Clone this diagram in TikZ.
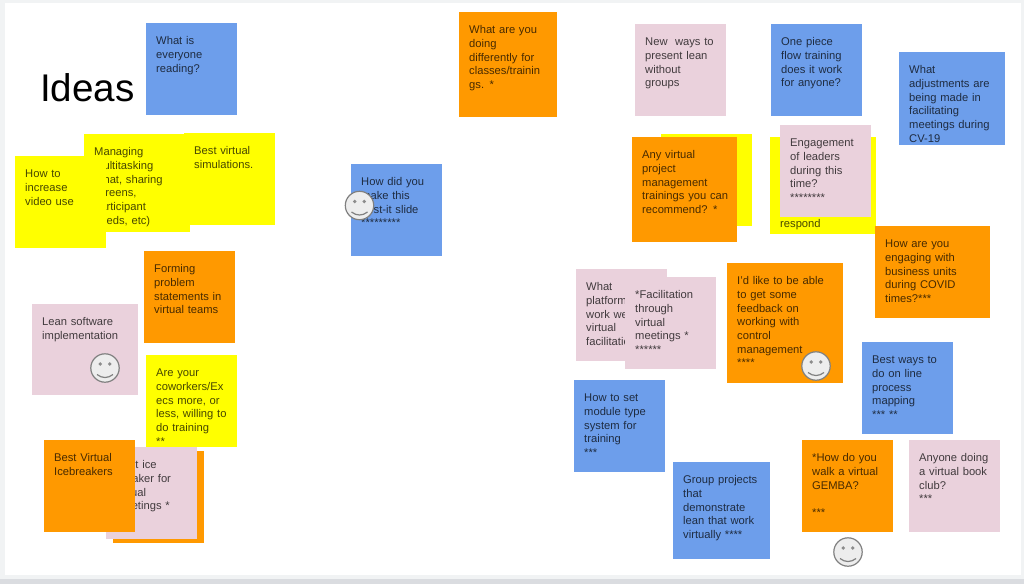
\documentclass[tikz,border=0pt]{standalone}
\usepackage{fontspec}
\setmainfont{Liberation Sans}
\usepackage{xcolor}
\usetikzlibrary{
    positioning
}
\definecolor{noteblue}{HTML}{6D9EEB}
\definecolor{noteorange}{HTML}{FF9900}
\definecolor{noteyellow}{HTML}{FFFF00}
\definecolor{notepink}{HTML}{EAD1DC}
\definecolor{slideedge}{HTML}{F1F3F4}
\definecolor{slidebar}{HTML}{DADCE0}
\tikzset{
    note/.style={
        rectangle,
        anchor=north west,
        align=left,
        inner sep=10pt,
        text height=11.5pt,
        text depth=60.5pt,
        text width=71pt,
        text=black,
        text opacity=0.72,
        font=\fontsize{11.2}{13.7}\selectfont
    },
    notesize/.style 2 args={
        text width=#1pt-20pt,
        text depth=#2pt-31.5pt
    },
    bluenote/.style={note, fill=noteblue},
    orangenote/.style={note, fill=noteorange},
    yellownote/.style={note, fill=noteyellow},
    pinknote/.style={note, fill=notepink},
    smiley/.pic={
        \draw[draw=black!50, fill=black!7, line width=1.2pt] (0,0) circle (14.2);
        \fill[black!45] (-4.7,-4) circle (1.9) (4.7,-4) circle (1.9);
        \draw[black!50, line width=1.2pt] (-8,6.5) .. controls (-3,10.5) and (3,10.5) .. (8,6.5);
    }
}
\begin{document}
\begin{tikzpicture}[x=1pt, y=-1pt]
\useasboundingbox (0,0) rectangle (1024,584);
\fill[slideedge] (0,0) rectangle (1024,584);
\fill[white] (5,3) rectangle (1021,575);
\fill[slidebar] (0,579) rectangle (1024,584);

\node[anchor=base west, inner sep=0pt, font=\fontsize{38.6}{44}\selectfont] (ideas) at (40,101) {Ideas};

\node[bluenote] (reading) at (146,23) {What is\\everyone\\reading?};
\node[yellownote, notesize={106}{98}] (multitasking) at (84,134) {Managing\\multitasking\\(chat, sharing\\screens,\\participant\\needs, etc)};
\node[yellownote] (simulations) at (184,133) {Best virtual\\simulations.};
\node[yellownote] (video) at (15,156) {How to\\increase\\video use};
\node[orangenote] (statements) at (144,251) {Forming\\problem\\statements in\\virtual teams};
\node[pinknote, notesize={106}{91}] (software) at (32,304) {Lean software\\implementation};
\node[yellownote] (coworkers) at (146,355) {Are your\\coworkers/Ex\\ecs more, or\\less, willing to\\do training\\{}**};
\node[orangenote] (blankback) at (113,451) {};
\node[pinknote] (iceone) at (106,447) {Best ice\\breaker for\\virtual\\meetings *};
\node[orangenote] (icetwo) at (44,440) {Best Virtual\\Icebreakers};

\node[orangenote, notesize={98}{105}] (differently) at (459,12) {What are you\\doing\\differently for\\classes/trainin\\gs. *};
\node[bluenote] (postit) at (351,164) {How did you\\make this\\post-it slide\\{}*********};

\node[pinknote] (present) at (635,24) {New\ \ ways to\\present lean\\without\\groups};
\node[bluenote] (onepiece) at (771,24) {One piece\\flow training\\does it work\\for anyone?};
\node[bluenote, notesize={106}{93}] (adjustments) at (899,52) {What\\adjustments are\\being made in\\facilitating\\meetings during\\CV-19};
\node[yellownote] (blankyellow) at (661,134) {};
\node[orangenote, notesize={105}{105}] (trainings) at (632,137) {Any virtual\\project\\management\\\mbox{trainings you can}\\recommend? *};
\node[yellownote, notesize={106}{97}] (respond) at (770,137) {~\\~\\~\\~\\~\\respond};
\node[pinknote] (leaders) at (780,125) {Engagement\\of leaders\\during this\\time?\\{}********};
\node[orangenote, notesize={115}{92}] (units) at (875,226) {How are you\\engaging with\\business units\\during COVID\\times?***};
\node[pinknote] (platforms) at (576,269) {What\\platforms\\work well\\virtual\\facilitation};
\node[pinknote] (facilitation) at (625,277) {*Facilitation\\through\\virtual\\meetings *\\{}******};
\node[orangenote, notesize={116}{120}] (feedback) at (727,263) {I'd like to be able\\to get some\\feedback on\\working with\\control\\management\\{}****};
\node[bluenote] (module) at (574,380) {How to set\\module type\\system for\\training\\{}***};
\node[bluenote, notesize={97}{97}] (group) at (673,462) {Group projects\\that\\demonstrate\\lean that work\\virtually ****};
\node[orangenote] (gemba) at (802,440) {*How do you\\walk a virtual\\GEMBA?\\~\\{}***};
\node[pinknote] (bookclub) at (909,440) {Anyone doing\\a virtual book\\club?\\{}***};
\node[bluenote] (mapping) at (862,342) {Best ways to\\do on line\\process\\mapping\\{}*** **};

\pic (smilelean) at (105,368) {smiley};
\pic (smilepostit) at (359.5,205.5) {smiley};
\pic (smilefeedback) at (816,366) {smiley};
\pic (smilegemba) at (848,552) {smiley};
\end{tikzpicture}
\end{document}
